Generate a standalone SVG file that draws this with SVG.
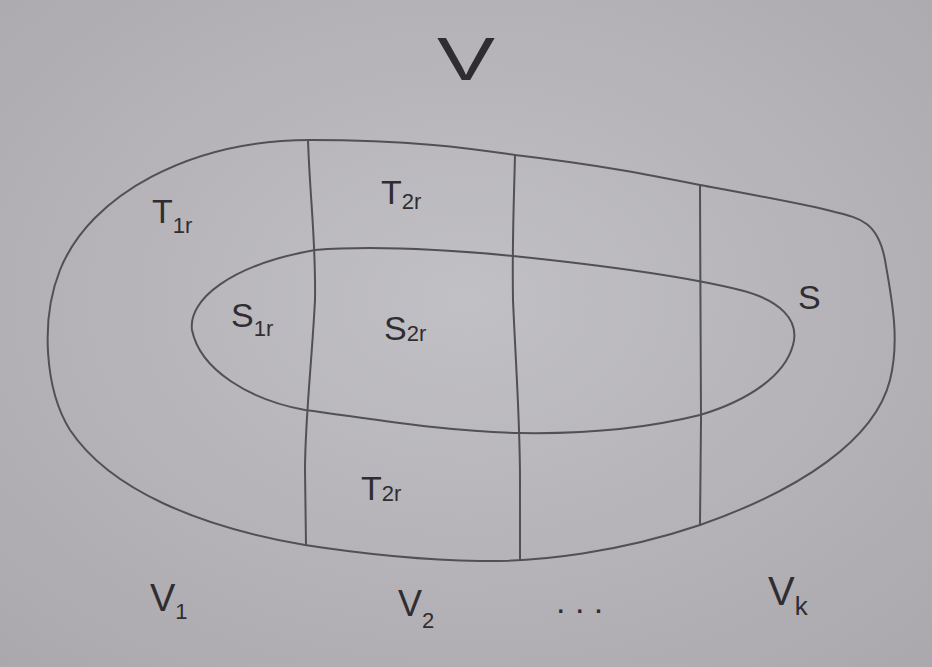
<svg xmlns="http://www.w3.org/2000/svg" width="932" height="667" viewBox="0 0 932 667">
<defs>
<radialGradient id="paper" cx="0.5" cy="0.45" r="0.75">
<stop offset="0" stop-color="#c1c0c4"/>
<stop offset="1" stop-color="#aba8ad"/>
</radialGradient>
<style>
.ln{fill:none;stroke:#525054;stroke-width:2;stroke-linecap:round;stroke-linejoin:round}
.t{font-family:"Liberation Sans","DejaVu Sans",sans-serif;fill:#2f2d31}
.big{font-size:34px}
.sub{font-size:22px}
</style>
</defs>
<rect width="932" height="667" fill="url(#paper)"/>
<g id="shapes">
<path id="outer-S" class="ln" d="M 310,140 C 420,140 480,150 515,155 C 600,165 650,175 700,185 C 760,196 810,205 835,212 C 860,218 878,222 885,260 C 892,300 900,340 890,380 C 875,440 800,490 700,525 C 620,552 540,562 480,561 C 420,560 350,552 305,545 C 200,527 110,490 70,430 C 45,390 40,320 60,270 C 90,195 190,140 310,140 Z"/>
<path id="inner" class="ln" d="M 315,250 C 380,245 450,250 513,256 C 600,265 680,275 740,290 C 780,300 800,320 793,345 C 785,375 750,400 700,415 C 640,430 580,434 520,433 C 450,432 380,420 305,410 C 250,400 200,370 192,330 C 188,300 230,265 315,250 Z"/>
<path class="ln" d="M 308,140 C 310,200 316,240 315,300 C 312,360 305,420 305,470 L 306,545"/>
<path class="ln" d="M 515,155 C 514,200 512,240 513,300 C 516,370 520,420 520,480 L 520,560"/>
<path class="ln" d="M 700,185 C 700,260 701,350 701,420 L 700,525"/>
</g>
<g id="labels">
<text class="t" x="437" y="80" font-size="62" textLength="58" lengthAdjust="spacingAndGlyphs">V</text>
<text class="t big" x="152" y="223">T<tspan class="sub" dy="10">1r</tspan></text>
<text class="t big" x="381" y="204">T<tspan class="sub" dy="5">2r</tspan></text>
<text class="t big" x="231" y="327">S<tspan class="sub" dy="9">1r</tspan></text>
<text class="t big" x="384" y="340">S<tspan class="sub" dy="1">2r</tspan></text>
<text class="t big" x="798" y="309">S</text>
<text class="t big" x="361" y="500">T<tspan class="sub" dy="1">2r</tspan></text>
<text class="t" x="150" y="611" font-size="38">V<tspan class="sub" dy="8">1</tspan></text>
<text class="t" x="398" y="616" font-size="36">V<tspan class="sub" dy="12">2</tspan></text>
<text class="t big" x="556" y="613">. . .</text>
<text class="t" x="768" y="605" font-size="40">V<tspan font-size="26" dy="10">k</tspan></text>
</g>
</svg>
